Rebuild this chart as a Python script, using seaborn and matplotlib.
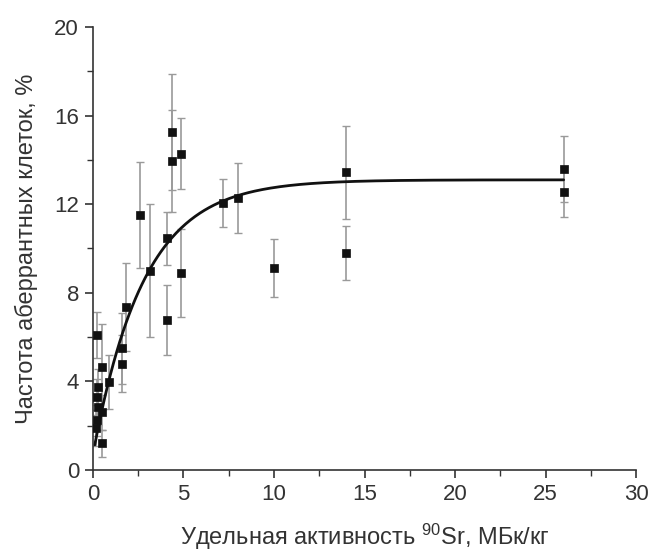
import matplotlib
matplotlib.use("Agg")
import matplotlib.pyplot as plt
import numpy as np
import pandas as pd
import seaborn as sns
from matplotlib.ticker import MultipleLocator

# measured points: activity (MBq/kg), aberrant cell frequency (%), error
activity = [0.2, 0.5, 0.9, 0.3, 0.2, 0.3, 0.5, 0.2, 0.15, 0.5, 1.6, 1.6, 1.8,
            2.6, 3.15, 4.1, 4.1, 4.35, 4.35, 4.85, 4.85, 7.2, 8.0, 10.0,
            14.0, 14.0, 26.0, 26.0]
freq = [6.1, 4.65, 3.97, 3.75, 3.3, 2.85, 2.6, 2.25, 1.9, 1.2, 5.5, 4.8, 7.36,
        11.5, 9.0, 10.47, 6.77, 15.26, 13.95, 14.27, 8.9, 12.05, 12.28, 9.12,
        13.45, 9.8, 13.6, 12.55]
err = [1.05, 1.95, 1.2, 0.8, 0.8, 0.8, 0.8, 0.7, 0.8, 0.6, 1.6, 1.3, 2.0,
       2.4, 3.0, 1.2, 1.6, 2.6, 2.3, 1.6, 2.0, 1.1, 1.6, 1.3,
       2.1, 1.2, 1.5, 1.15]

# saturation fit y = y0 + A * (1 - exp(-x / t))
fit_y0, fit_A, fit_t = 0.7, 12.4, 2.8
fit_x_start, fit_x_end = 0.1, 26.0

df = pd.DataFrame({"x": activity, "y": freq, "err": err})
fit = pd.DataFrame({"x": np.linspace(fit_x_start, fit_x_end, 300)})
fit["y"] = fit_y0 + fit_A * (1 - np.exp(-fit["x"] / fit_t))

sns.set_theme(style="ticks")
plt.rcParams["font.family"] = ["Liberation Sans", "DejaVu Sans"]
plt.rcParams["mathtext.default"] = "regular"
text_color = "#333333"

fig = plt.figure(figsize=(6.52, 5.54), dpi=100)
ax = fig.add_axes([0.1426, 0.1516, 0.8329, 0.7997])

ax.errorbar(df["x"], df["y"], yerr=df["err"], fmt="none", ecolor="#9a9a9a",
            elinewidth=1.2, capsize=3, capthick=1.0, zorder=1)
sns.lineplot(data=fit, x="x", y="y", ax=ax, color="#111111", linewidth=2.0,
             zorder=2)
sns.scatterplot(data=df, x="x", y="y", ax=ax, marker="s", s=38,
                color="#111111", edgecolor="#111111", linewidth=0.5, zorder=3)

ax.set_xlim(0, 30)
ax.set_ylim(0, 20)
ax.xaxis.set_major_locator(MultipleLocator(5))
ax.xaxis.set_minor_locator(MultipleLocator(2.5))
ax.yaxis.set_major_locator(MultipleLocator(4))
ax.yaxis.set_minor_locator(MultipleLocator(2))
ax.tick_params(which="major", direction="out", length=6, width=1.2,
               labelsize=16, colors=text_color, pad=4)
ax.tick_params(which="minor", direction="out", length=4, width=1.0,
               colors=text_color)
sns.despine(ax=ax)
for side in ["left", "bottom"]:
    ax.spines[side].set_linewidth(1.2)
    ax.spines[side].set_color("#333333")

ax.set_xlabel("Удельная активность $^{90}$Sr, МБк/кг", fontsize=17,
              color=text_color, labelpad=12)
ax.set_ylabel("Частота аберрантных клеток, %", fontsize=17,
              color=text_color, labelpad=12)

fig.savefig("out.png", dpi=100)
